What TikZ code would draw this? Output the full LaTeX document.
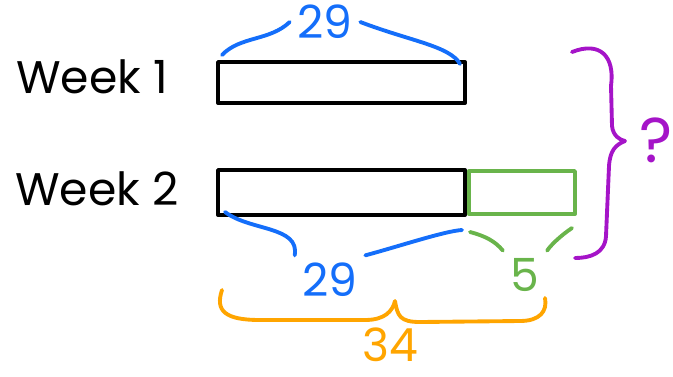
\documentclass[tikz,border=0pt]{standalone}
\usepackage{fontspec}
\setmainfont{Poppins}
\definecolor{bblue}{RGB}{20,110,250}
\definecolor{bgreen}{RGB}{105,180,75}
\definecolor{borange}{RGB}{255,165,0}
\definecolor{bpurple}{RGB}{165,20,200}
\begin{document}
\begin{tikzpicture}[line width=2.2pt,line cap=round,line join=round,
  bar/.style={draw,rectangle,inner sep=0pt,minimum width=4.94cm},
  lbl/.style={font=\fontsize{26}{28}\selectfont}]
\useasboundingbox (0,0) rectangle (13.46,7.52);
\node[lbl] (w1) at (1.84,5.98) {Week 1};
\node[lbl] (w2) at (1.94,3.74) {Week 2};
\node[bar,minimum height=0.82cm] (b1) at (6.83,5.87) {};
\node[bar,minimum height=0.9cm] (b2) at (6.83,3.67) {};
\node[draw=bgreen,rectangle,inner sep=0pt,minimum width=2.12cm,minimum height=0.86cm,anchor=west] (g) at (b2.east) {};
\node[lbl,text=bblue] (t29) at (6.5,7.08) {29};
\node[lbl,text=bblue] (b29) at (6.6,1.92) {29};
\node[lbl,text=bgreen] (f5) at (10.5,2.02) {5};
\node[lbl,text=borange,inner sep=0pt] (s34) at (7.8,0.62) {34};
\node[text=bpurple,font=\fontsize{36}{38}\selectfont] (q) at (13.12,4.72) {?};
\coordinate (tip) at (7.9,1.5);
\draw[bblue] (4.44,6.42) .. controls (4.8,6.8) and (5.4,6.7) .. (t29.west);
\draw[bblue] (t29.east) .. controls (8.2,6.7) and (9.0,6.6) .. (9.2,6.24);
\draw[bblue] (4.5,3.28) .. controls (5.0,2.9) and (6.0,3.0) .. (b29.north west);
\draw[bblue] (b29.north east) .. controls (8.0,2.6) and (8.9,2.9) .. (9.24,2.92);
\draw[bgreen] (9.4,2.88) .. controls (9.7,2.8) and (9.9,2.7) .. (f5.north west);
\draw[bgreen] (f5.north east) .. controls (11.0,2.6) and (11.2,2.8) .. (11.44,2.96);
\draw[borange] (4.44,1.72) .. controls (4.3,1.3) and (4.5,1.12) .. (5.2,1.12)
  -- (7.3,1.12) .. controls (7.7,1.12) and (7.85,1.3) .. (tip)
  .. controls (7.95,1.2) and (8.0,1.08) .. (8.4,1.08)
  -- (10.4,1.1) .. controls (10.8,1.1) and (10.95,1.3) .. (10.9,1.56);
\draw[bpurple] (11.44,6.48) .. controls (12.0,6.7) and (12.3,6.4) .. (12.22,5.8)
  -- (12.24,5.0) .. controls (12.26,4.8) and (12.4,4.72) .. (12.5,4.7)
  .. controls (12.3,4.62) and (12.2,4.5) .. (12.18,4.2)
  -- (12.12,2.8) .. controls (12.1,2.45) and (11.8,2.36) .. (11.5,2.36);
\end{tikzpicture}
\end{document}
